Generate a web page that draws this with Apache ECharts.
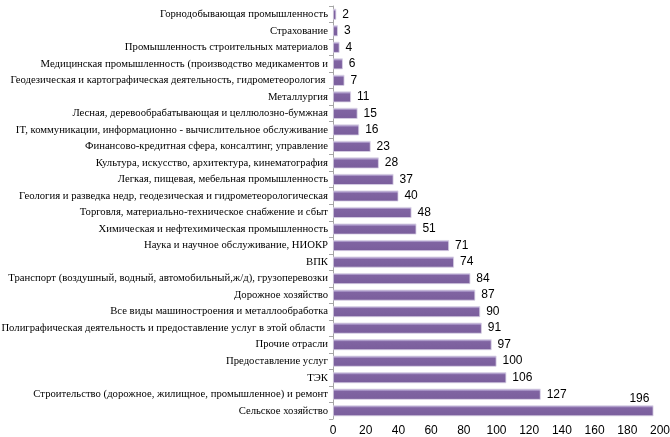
<!DOCTYPE html>
<html><head><meta charset="utf-8">
<script src="https://cdn.jsdelivr.net/npm/echarts@6/dist/echarts.min.js"></script>
<style>html,body{margin:0;padding:0;background:#fff}#c{width:670px;height:437px}</style>
</head><body><div id="c"></div>
<script>
const categories = [
 "Горнодобывающая промышленность",
 "Страхование",
 "Промышленность строительных материалов",
 "Медицинская промышленность (производство медикаментов и",
 "Геодезическая и картографическая деятельность, гидрометеорология ",
 "Металлургия",
 "Лесная, деревообрабатывающая и целлюлозно-бумжная",
 "IT, коммуникации, информационно - вычислительное обслуживание",
 "Финансово-кредитная сфера, консалтинг, управление",
 "Культура, искусство, архитектура, кинематография",
 "Легкая, пищевая, мебельная промышленность",
 "Геология и разведка недр, геодезическая и гидрометеорологическая",
 "Торговля, материально-техническое снабжение и сбыт",
 "Химическая и нефтехимическая промышленность",
 "Наука и научное обслуживание, НИОКР",
 "ВПК",
 "Транспорт (воздушный, водный, автомобильный,ж/д), грузоперевозки",
 "Дорожное хозяйство",
 "Все виды машиностроения и металлообработка",
 "Полиграфическая деятельность и предоставление услуг в этой области ",
 "Прочие отрасли",
 "Предоставление услуг",
 "ТЭК",
 "Строительство (дорожное, жилищное, промышленное) и ремонт",
 "Сельское хозяйство"
];
const values = [2,3,4,6,7,11,15,16,23,28,37,40,48,51,71,74,84,87,90,91,97,100,106,127,196];
const xTicks = [0,20,40,60,80,100,120,140,160,180,200];

const barColor = new echarts.graphic.LinearGradient(0,0,0,1,[
  {offset:0,color:'#c3b6d8'},{offset:0.18,color:'#a08bc0'},{offset:0.22,color:'#8064a2'},{offset:1,color:'#7a5e9c'}
]);
const data = values.map((v,i)=>{
  const d = {value:v};
  if (i === values.length-1) {
    d.label = {position:['100%',0], align:'right', verticalAlign:'bottom', offset:[-4,-1]};
  }
  return d;
});
const chart = echarts.init(document.getElementById('c'));
chart.setOption({
  animation:false,
  grid:{left:333,right:10,top:6,bottom:18,containLabel:false,outerBoundsMode:'none'},
  xAxis:{type:'value',min:xTicks[0],max:xTicks[xTicks.length-1],interval:20,
    axisLine:{show:false},axisTick:{show:false},splitLine:{show:false},
    axisLabel:{margin:6,color:'#000',fontFamily:'Liberation Sans, Arial',fontSize:12}},
  yAxis:{type:'category',data:categories,inverse:true,
    axisLine:{show:true,lineStyle:{color:'#a6a6a6',width:1}},
    axisTick:{show:true,alignWithLabel:false,length:4,lineStyle:{color:'#a6a6a6'}},
    axisLabel:{margin:5,color:'#000',fontFamily:'Liberation Serif, Times New Roman',fontSize:10.7}},
  series:[{type:'bar',data:data,barWidth:11,
    itemStyle:{color:barColor,borderColor:'#d9d2e6',borderWidth:0.8},
    label:{show:true,position:'right',distance:6,color:'#000',fontFamily:'Liberation Sans, Arial',fontSize:12}
  }]
});
</script></body></html>
